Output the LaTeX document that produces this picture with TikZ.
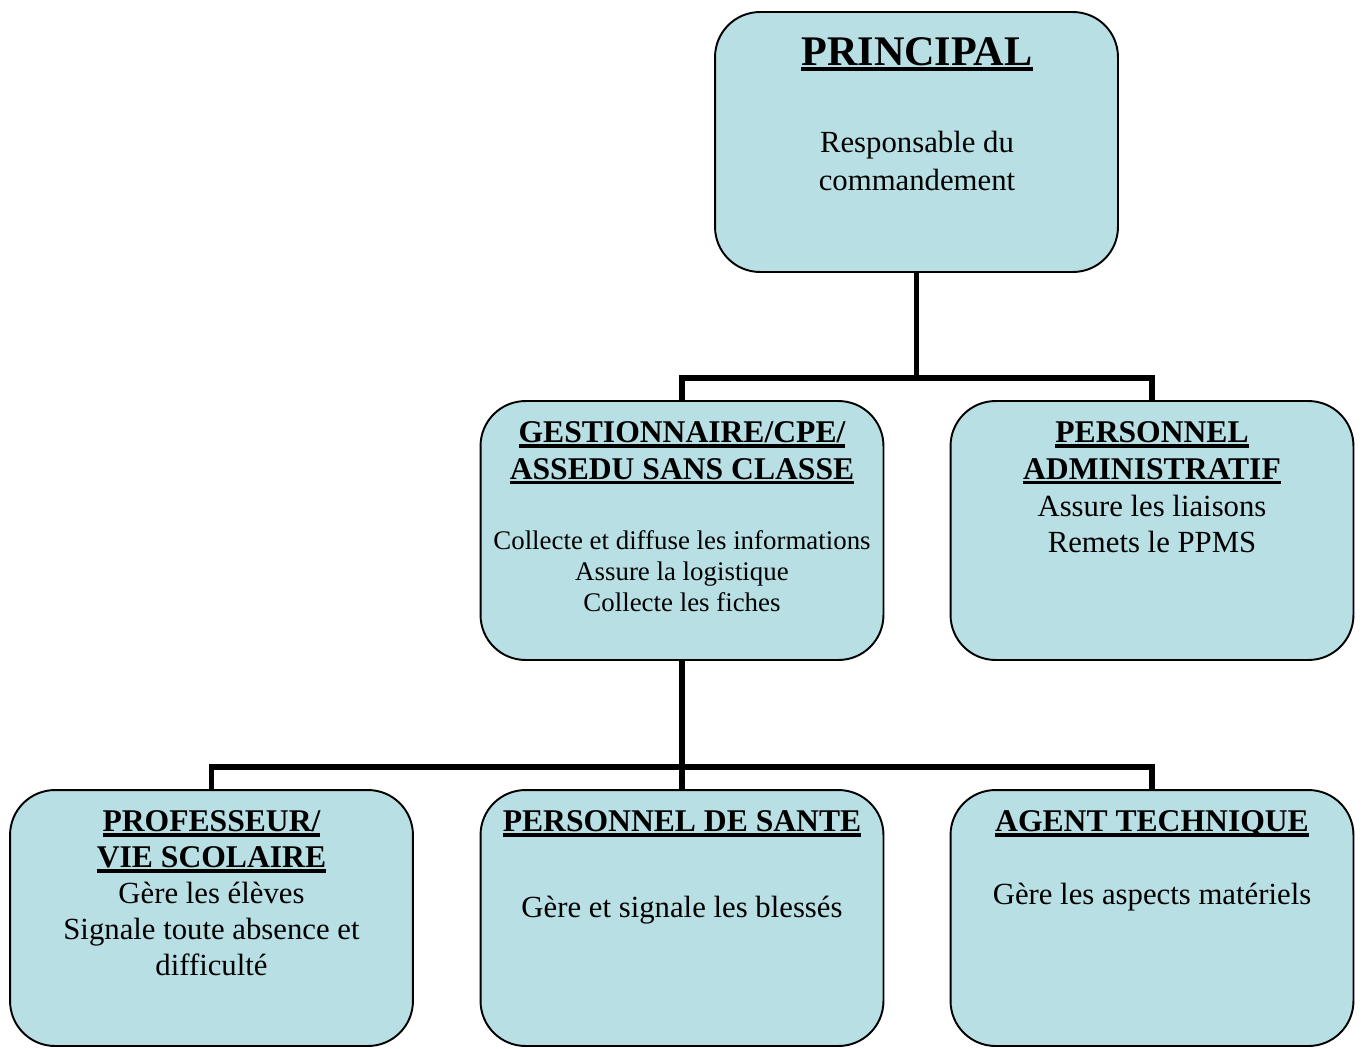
\documentclass[tikz,border=0pt]{standalone}
\usepackage{fontspec}
\setmainfont{Liberation Serif}
\usepackage{tikz}

\definecolor{boxblue}{RGB}{184,223,227}
\newcommand{\ulined}[1]{\setbox0=\hbox{#1}\leavevmode\rlap{\rule[-3pt]{\wd0}{1.8pt}}\box0}

\begin{document}
\begin{tikzpicture}[x=0.02cm,y=-0.02cm,
    box/.style={draw, line width=1.1pt, fill=boxblue, rounded corners=0.9cm,
        minimum width=8.06cm, inner sep=0pt},
    link/.style={line width=3pt},
    title/.style={anchor=north, align=center, inner sep=0pt,
        font=\fontsize{18}{21}\selectfont\bfseries},
    body/.style={anchor=north, align=center, inner sep=0pt,
        font=\fontsize{17.5}{21}\selectfont}]
    \useasboundingbox (0,0) rectangle (1362,1048);

    % Boxes
    \node[box, minimum height=5.2cm] (princ) at (916.5,142) {};
    \node[box, minimum height=5.18cm] (gest) at (682,530.5) {};
    \node[box, minimum height=5.18cm] (admin) at (1152,530.5) {};
    \node[box, minimum height=5.12cm] (prof) at (211.5,918) {};
    \node[box, minimum height=5.12cm] (sante) at (682,918) {};
    \node[box, minimum height=5.12cm] (agent) at (1152,918) {};

    % Links
    \draw[link] (princ.south) -- ++(0,105) coordinate (j1);
    \draw[link] (gest.north) |- (j1) -| (admin.north);
    \draw[link] (gest.south) -- ++(0,106) coordinate (j2);
    \draw[link] (prof.north) |- (j2) -| (agent.north);
    \draw[link] (j2) -- (sante.north);

    % Texts
    \node[title, font=\fontsize{24}{28}\selectfont\bfseries] (tprinc) at (917,37) {\ulined{PRINCIPAL}};
    \node[body, font=\fontsize{17.5}{21.5}\selectfont] (bprinc) at (917,131) {Responsable du\\commandement};

    \node[title] (tgest) at (682,421) {\ulined{GESTIONNAIRE/CPE/}\\\ulined{ASSEDU SANS CLASSE}};
    \node[body, font=\fontsize{15.3}{17.6}\selectfont] (bgest) at (682,530)
        {Collecte et diffuse les informations\\Assure la logistique\\Collecte les fiches};

    \node[title] (tadmin) at (1152,421) {\ulined{PERSONNEL}\\\ulined{ADMINISTRATIF}\\
        \mdseries\fontsize{17.5}{21}\selectfont Assure les liaisons\\\mdseries\fontsize{17.5}{21}\selectfont Remets le PPMS};

    \node[title, font=\fontsize{18}{20.5}\selectfont\bfseries] (tprof) at (211.5,810) {\ulined{PROFESSEUR/}\\\ulined{VIE SCOLAIRE}\\
        \mdseries\fontsize{17.5}{20.5}\selectfont Gère les élèves\\\mdseries\fontsize{17.5}{20.5}\selectfont Signale toute absence et\\
        \mdseries\fontsize{17.5}{20.5}\selectfont difficulté};

    \node[title] (tsante) at (682,810) {\ulined{PERSONNEL DE  SANTE}};
    \node[body] (bsante) at (682,896) {Gère et signale les blessés};

    \node[title] (tagent) at (1152,810) {\ulined{AGENT TECHNIQUE}};
    \node[body] (bagent) at (1152,883) {Gère les aspects matériels};
\end{tikzpicture}
\end{document}
